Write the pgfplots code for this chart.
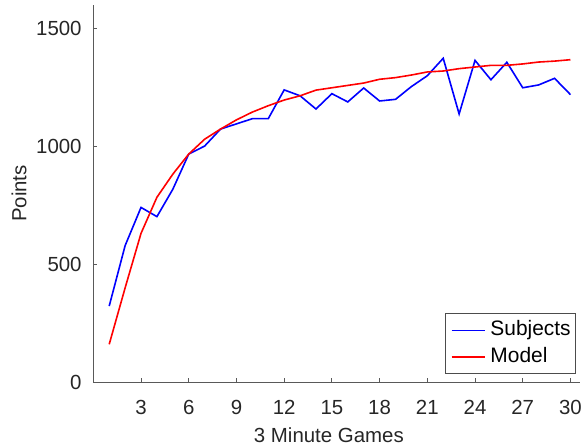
\documentclass[border=0pt]{standalone}
\usepackage{pgfplots}
\pgfplotsset{compat=1.18}
\usepackage{fontspec}
\setmainfont{Liberation Sans}
\begin{document}
\begin{tikzpicture}
\useasboundingbox (0,0) rectangle (584bp,448bp);
\begin{axis}[
  at={(93.3bp,65.7bp)}, anchor=south west,
  scale only axis,
  width=486.7bp, height=377.6bp,
  xmin=0, xmax=30.6, ymin=0, ymax=1600,
  axis lines*=left,
  axis line style={black!65, line width=0.8bp},
  tick align=inside,
  major tick length=4bp,
  tick style={black!65, line width=0.8bp},
  xtick={3,6,...,30},
  ytick={0,500,1000,1500},
  /pgf/number format/assume math mode=true,
  /pgf/number format/1000 sep={},
  tick label style={font=\fontsize{20.5}{24}\selectfont, text=black!85},
  xticklabel style={anchor=base, inner sep=0pt, yshift=-32bp},
  yticklabel style={anchor=east, inner sep=0pt, xshift=-11.5bp},
  xlabel={3 Minute Games},
  ylabel={Points},
  label style={font=\fontsize{20.5}{24}\selectfont, text=black!85},
  xlabel style={at={(axis description cs:0.484,0)}, anchor=base, yshift=-59.7bp, inner sep=0pt},
  ylabel style={at={(axis description cs:-0.1527,0.5)}, anchor=center, rotate=0, inner sep=0pt},
  legend style={at={(rel axis cs:0.992,0.022)}, anchor=south east,
    font=\fontsize{21}{24}\selectfont, draw=black!70, line width=0.8bp,
    inner xsep=5bp, inner ysep=7bp, row sep=7.7bp, column sep=5bp,
    nodes={inner sep=0pt, text height=15bp, text depth=4bp}},
  legend cell align=left,
  legend image code/.code={\draw[#1, line width=1.6bp] (0bp,0bp) -- (33bp,0bp);},
]
\addplot[blue, line width=1.6bp] coordinates {
(1,323) (2,579) (3,741) (4,702) (5,818) (6,967) (7,1001) (8,1073) (9,1095) (10,1117)
(11,1117) (12,1239) (13,1214) (14,1158) (15,1223) (16,1188) (17,1247) (18,1192) (19,1199) (20,1253)
(21,1299) (22,1373) (23,1137) (24,1364) (25,1282) (26,1356) (27,1248) (28,1260) (29,1288) (30,1219)
};
\addlegendentry{Subjects}
\addplot[red, line width=1.6bp] coordinates {
(1,161) (2,400) (3,631) (4,784) (5,882) (6,967) (7,1030) (8,1073) (9,1112) (10,1145)
(11,1172) (12,1196) (13,1214) (14,1238) (15,1248) (16,1258) (17,1268) (18,1284) (19,1291) (20,1302)
(21,1315) (22,1319) (23,1329) (24,1336) (25,1343) (26,1343) (27,1349) (28,1357) (29,1361) (30,1367)
};
\addlegendentry{Model}
\end{axis}
\end{tikzpicture}
\end{document}
